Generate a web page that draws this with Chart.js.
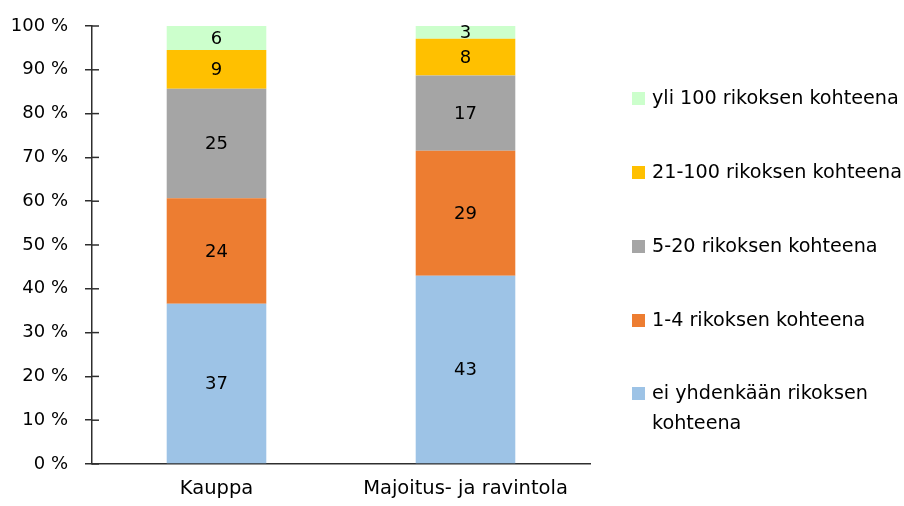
<!DOCTYPE html>
<html><head><meta charset="utf-8">
<script src="https://cdn.jsdelivr.net/npm/chart.js@4"></script>
<style>html,body{margin:0;padding:0;background:#fff}#wrap{width:904px;height:506px}</style>
</head><body><div id="wrap"><canvas id="c" width="904" height="506"></canvas></div>
<script>
const categories = ['Kauppa', 'Majoitus- ja ravintola'];
const seriesNames = ['ei yhdenkään rikoksen kohteena', '1-4 rikoksen kohteena', '5-20 rikoksen kohteena', '21-100 rikoksen kohteena', 'yli 100 rikoksen kohteena'];
const eiYhdenkaan = [36.6, 43.0];
const yksiNelja = [24.1, 28.5];
const viisiKaksikymmenta = [25.0, 17.2];
const kaksikymmentayksiSata = [8.8, 8.4];
const yliSata = [5.5, 2.9];
const yTicks = [0, 10, 20, 30, 40, 50, 60, 70, 80, 90, 100];
const colors = ['#9DC3E6', '#ED7D31', '#A5A5A5', '#FFC000', '#CCFFCC'];
const FONT = '"DejaVu Sans"';
const FS = 18;
const FS_TEXT = 19.5;
const FS_LEGEND = 19.2;
const AXIS = '#2e2e2e';

const seriesValues = [eiYhdenkaan, yksiNelja, viisiKaksikymmenta, kaksikymmentayksiSata, yliSata];

const valueLabels = {
  id: 'valueLabels',
  afterDatasetsDraw(chart) {
    const ctx = chart.ctx;
    ctx.save();
    ctx.font = FS + 'px ' + FONT;
    ctx.fillStyle = '#000';
    ctx.textAlign = 'center';
    ctx.textBaseline = 'middle';
    chart.data.datasets.forEach((ds, i) => {
      const meta = chart.getDatasetMeta(i);
      meta.data.forEach((el, j) => {
        const cy = (el.y + el.base) / 2;
        ctx.fillText(String(Math.round(ds.data[j])), el.x, cy + 1);
      });
    });
    ctx.restore();
  }
};

const innerTicks = {
  id: 'innerTicks',
  afterDraw(chart) {
    const ctx = chart.ctx, y = chart.scales.y, x0 = chart.chartArea.left;
    ctx.save();
    ctx.strokeStyle = AXIS;
    ctx.lineWidth = 1.5;
    yTicks.forEach(v => {
      const py = y.getPixelForValue(v);
      ctx.beginPath(); ctx.moveTo(x0, py); ctx.lineTo(x0 + 7, py); ctx.stroke();
    });
    ctx.restore();
  }
};

const sideLegend = {
  id: 'sideLegend',
  afterDraw(chart) {
    const ctx = chart.ctx;
    ctx.save();
    ctx.font = FS_LEGEND + 'px ' + FONT;
    ctx.fillStyle = '#000';
    ctx.textBaseline = 'middle';
    const order = [4, 3, 2, 1, 0];
    const ys = [99, 173, 247, 321, 394];
    order.forEach((di, k) => {
      const ds = chart.data.datasets[di];
      const y = ys[k];
      ctx.fillStyle = ds.backgroundColor;
      ctx.fillRect(632, y - 7, 13, 13);
      ctx.fillStyle = '#000';
      const words = ds.label.split(' ');
      let line = '', lines = [];
      words.forEach(w => {
        const test = line ? line + ' ' + w : w;
        if (ctx.measureText(test).width > 262 && line) { lines.push(line); line = w; } else line = test;
      });
      lines.push(line);
      lines.forEach((t, li) => ctx.fillText(t, 652, y + li * 30));
    });
    ctx.restore();
  }
};

new Chart(document.getElementById('c'), {
  type: 'bar',
  data: {
    labels: categories,
    datasets: seriesValues.map((vals, i) => ({
      label: seriesNames[i],
      data: vals,
      backgroundColor: colors[i],
      borderWidth: 0,
      categoryPercentage: 1,
      barPercentage: 0.4
    }))
  },
  options: {
    responsive: false,
    animation: false,
    layout: { padding: { left: 0, right: 314, top: 25, bottom: 0 } },
    plugins: { legend: { display: false }, tooltip: { enabled: false } },
    scales: {
      x: {
        stacked: true,
        grid: { display: false, drawTicks: false },
        border: { color: AXIS, width: 1.5 },
        ticks: { color: '#000', font: { family: FONT, size: FS_TEXT, lineHeight: 1 }, padding: 15, maxRotation: 0 },
        afterFit(s) { s.height = 42; }
      },
      y: {
        stacked: true,
        min: 0, max: 100,
        afterBuildTicks(s) { s.ticks = yTicks.map(v => ({ value: v })); },
        grid: { drawOnChartArea: false, drawTicks: true, tickLength: 7, color: AXIS, lineWidth: 1.5 },
        border: { color: AXIS, width: 1.5 },
        ticks: { color: '#000', font: { family: FONT, size: FS, lineHeight: 1 }, padding: 17, callback: v => v + ' %' },
        afterFit(s) { s.width = 92; }
      }
    }
  },
  plugins: [valueLabels, innerTicks, sideLegend]
});
</script>
</body></html>
